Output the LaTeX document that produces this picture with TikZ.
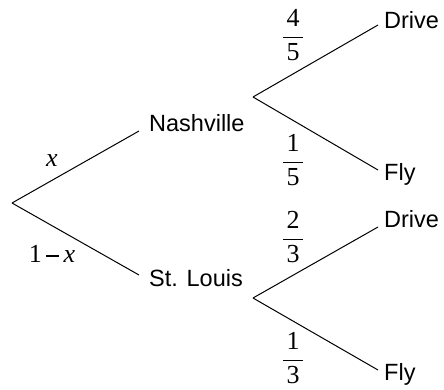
\documentclass[tikz,border=0pt]{standalone}
\usepackage{fontspec}
\setmainfont{Liberation Sans}
\newfontfamily\serif{Liberation Serif}
\newcommand{\fr}[2]{$\displaystyle\frac{\hbox to 0.75em{\hss\serif #1\hss}}{\hbox to 0.75em{\hss\serif #2\hss}}$}
\begin{document}
\begin{tikzpicture}[x=1pt,y=-1pt,
  branch/.style={line width=1pt},
  lbl/.style={font=\fontsize{23.5}{26}\selectfont, anchor=base west, inner sep=0pt},
  prob/.style={font=\fontsize{26}{30}\selectfont, inner sep=0pt},
  var/.style={font=\fontsize{26}{30}\selectfont\serif, inner sep=0pt}]
\useasboundingbox (0,0) rectangle (444,389);
% fork points
\coordinate (r) at (12,203);
\coordinate (n) at (253,97);
\coordinate (s) at (253,298);
% branch ends
\coordinate (nEnd) at (139,131);
\coordinate (sEnd) at (139,275);
\coordinate (ndEnd) at (378,25);
\coordinate (nfEnd) at (378,170);
\coordinate (sdEnd) at (378,227);
\coordinate (sfEnd) at (378,370);
% labels
\node[lbl] (nash) at (149,131) {Nashville};
\node[lbl] (stl) at (149,286) {St. Louis};
\node[lbl] (d1) at (384,28) {Drive};
\node[lbl] (f1) at (384,180) {Fly};
\node[lbl] (d2) at (384,227) {Drive};
\node[lbl] (f2) at (384,380) {Fly};
% probabilities
\node[prob] (p1) at (293,35) {\fr{4}{5}};
\node[prob] (p2) at (293,160) {\fr{1}{5}};
\node[prob] (p3) at (293,237) {\fr{2}{3}};
\node[prob] (p4) at (293,358) {\fr{1}{3}};
\node[var] (px) at (52,161) {\itshape x};
\node[var] (pnx) at (52,254) {1\,\raisebox{0.23em}{\rule{0.5em}{0.045em}}\,\itshape x};
% branches
\draw[branch] (r) -- (nEnd);
\draw[branch] (r) -- (sEnd);
\draw[branch] (n) -- (ndEnd);
\draw[branch] (n) -- (nfEnd);
\draw[branch] (s) -- (sdEnd);
\draw[branch] (s) -- (sfEnd);
\end{tikzpicture}
\end{document}
